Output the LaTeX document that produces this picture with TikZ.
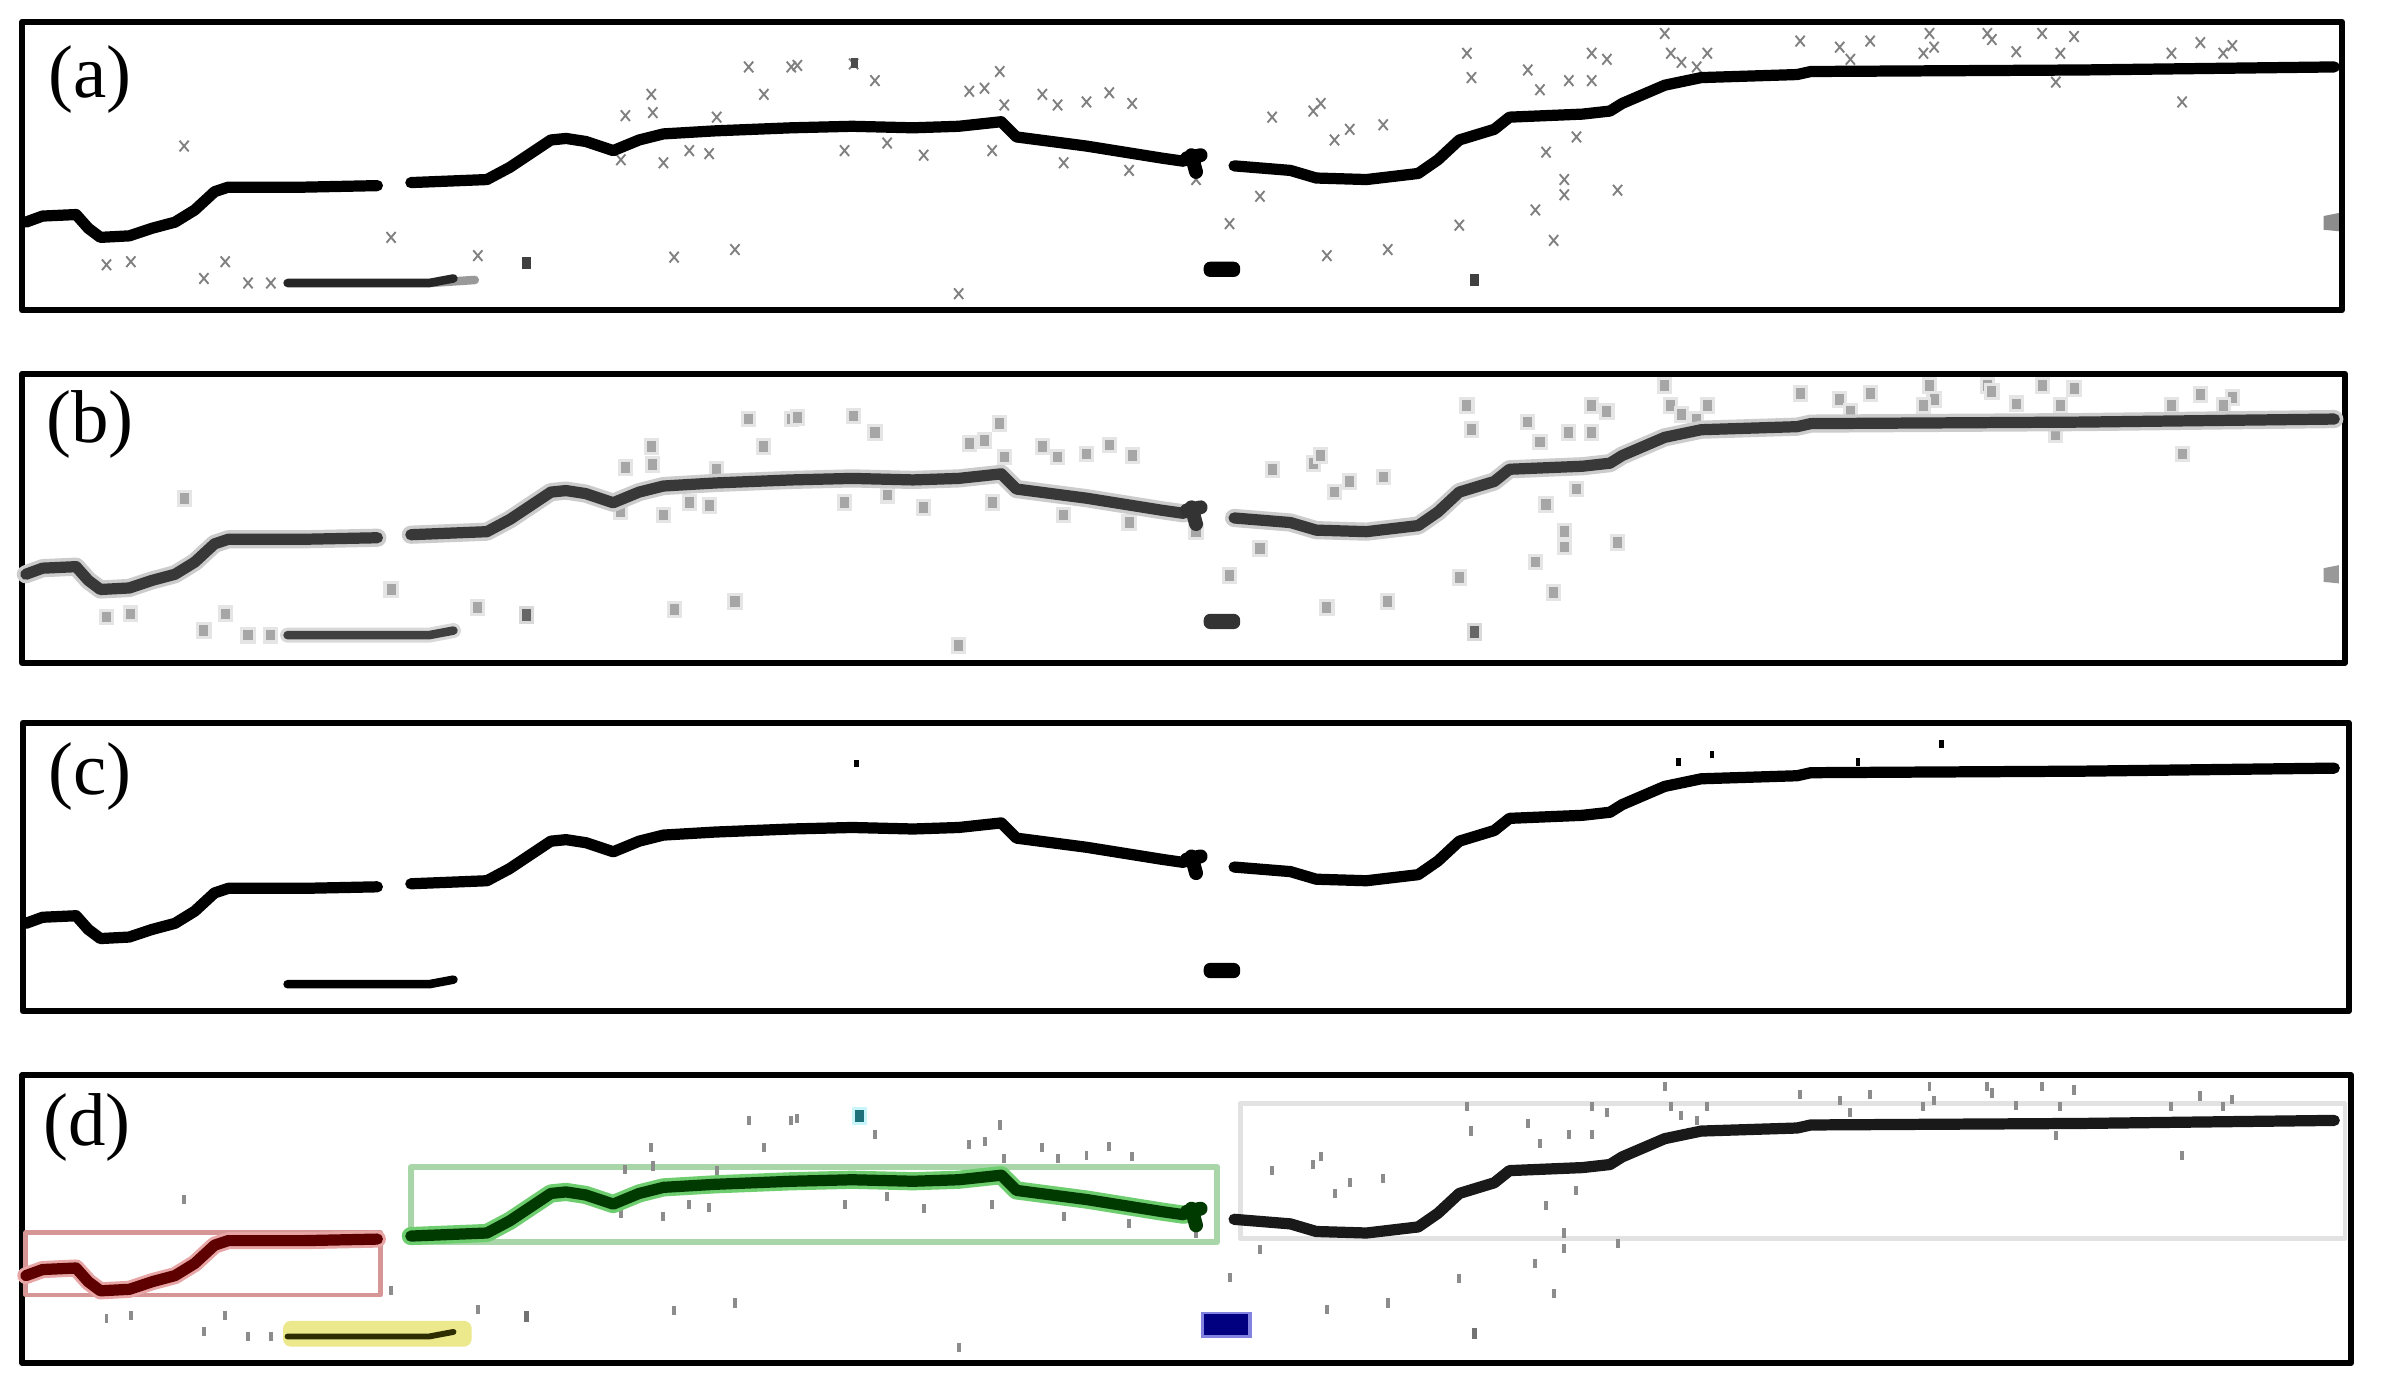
\documentclass[tikz,border=0pt]{standalone}
\usepackage{fontspec}
\setmainfont{Liberation Serif}
\definecolor{redbox}{RGB}{214,150,150}
\definecolor{redcurve}{RGB}{95,0,0}
\definecolor{redglow}{RGB}{232,165,165}
\definecolor{greenbox}{RGB}{168,214,168}
\definecolor{greencurve}{RGB}{0,58,0}
\definecolor{greenglow}{RGB}{110,205,110}
\definecolor{yellowbar}{RGB}{236,232,140}
\definecolor{olivecurve}{RGB}{45,45,0}
\definecolor{navyblob}{RGB}{0,0,128}
\definecolor{navyedge}{RGB}{130,130,225}
\definecolor{graybox}{RGB}{226,226,226}
\definecolor{tealdot}{RGB}{30,112,122}
\definecolor{cyanhalo}{RGB}{200,245,250}

\newcommand\curvesegA[1]{\draw[#1] (17,146) -- (28,142) -- (50,141) -- (58,150) -- (66,156) -- (85,155) -- (100,150) -- (115,146) -- (128,138) -- (141,126) -- (150,123) -- (200,123) -- (248,122);}
\newcommand\curvesegB[1]{\draw[#1] (270,120) -- (320,118) -- (335,110) -- (350,100) -- (362,92) -- (372,91) -- (385,93) -- (403,99) -- (420,92) -- (436,88) -- (470,86) -- (520,84) -- (560,83) -- (600,84) -- (630,83) -- (658,80) -- (668,90) -- (714,96) -- (764,104) -- (778,106);}
\newcommand\curvesegC[1]{\draw[#1] (811,109) -- (848,112) -- (865,117) -- (898,118) -- (932,114) -- (945,105) -- (959,92) -- (982,85) -- (992,77) -- (1040,75) -- (1058,73) -- (1066,68) -- (1094,56) -- (1118,51) -- (1181,49) -- (1190,47) -- (1368,46) -- (1534,44);}
\newcommand\midblob[1]{\draw[#1, line width=2.6pt] (783,102) -- (786,113) (780,104) -- (789,102);}
\newcommand\lowbar[1]{\draw[#1] (189,186) -- (282,186) -- (298,183);}
\newcommand\lowblob[1]{\fill[#1, rounded corners=1.2pt] (791,172) rectangle (815,182);}

\def\scatterlist{121/96, 70/174, 86/172, 148/172, 134/183, 163/186, 178/186, 257/156, 314/168, 443/169, 483/164, 630/193,
492/44, 520/44, 524/43, 502/62, 428/62, 429/74, 411/76, 471/77, 408/105, 436/107, 453/99, 466/101,
561/42, 575/53, 657/47, 647/58, 637/60, 660/69, 685/62, 695/69, 714/67, 729/61, 744/68,
555/99, 583/94, 607/102, 652/99, 699/107, 742/112, 786/118, 828/129, 808/147,
836/77, 863/73, 887/85, 877/92, 909/82, 868/68, 872/168, 912/164, 959/148,
964/35, 967/51, 1004/46, 1012/59, 1031/53, 1016/100, 1028/118, 1028/128, 1009/138, 1021/158,
1046/53, 1056/39, 1046/35, 1036/90, 1063/125,
1094/22, 1098/35, 1105/41, 1122/35, 1115/44, 1183/27, 1209/31, 1229/27, 1216/39,
1268/22, 1271/31, 1264/35, 1306/22, 1309/26, 1325/34, 1342/22, 1363/24, 1354/35, 1351/54,
1446/28, 1467/30, 1427/35, 1461/35, 1434/67}
\def\darklist{346/173, 969/184}

\begin{document}
\begin{tikzpicture}[x=0.1mm, y=-0.1mm, line join=round, line cap=round,
  frame/.style={draw=black, line width=1.15pt},
  lbl/.style={font=\fontsize{14}{16}\selectfont, inner sep=0pt},
  curve/.style={line width=2.1pt},
  lowline/.style={line width=1.6pt},
  xmark/.style={draw=black!50, line width=0.35pt, line cap=butt},
]
\useasboundingbox (0,0) rectangle (1568,915);
\fill[white] (0,0) rectangle (1568,915);

% ---------------- panel (a)
\draw[frame] (14.7,14.2) rectangle (1539,204);
\node[lbl] (la) at (59,52) {(a)};
\foreach \px/\py in \scatterlist {
  \draw[xmark] (\px-3,\py-3.5) -- (\px+3,\py+3.5) (\px-3,\py+3.5) -- (\px+3,\py-3.5);
}
\foreach \px/\py in \darklist { \fill[black!75] (\px-3,\py-4) rectangle (\px+3,\py+4); }
\fill[black!70] (559,38) rectangle (564,45);
\fill[black!45] (1527,142) -- (1537,140) -- (1537,152) -- (1527,151) -- cycle;
\curvesegA{curve}
\curvesegB{curve}
\curvesegC{curve}
\midblob{black}
\draw[black!40, line width=1.6pt] (282,186) -- (312,184);
\lowbar{lowline, black!85}
\lowblob{black}

% ---------------- panel (b)
\draw[frame] (14.7,245.6) rectangle (1541,435.5);
\node[lbl] (lb) at (59,279) {(b)};
\begin{scope}[shift={(0,231.4)}]
  \foreach \px/\py in \scatterlist {
    \fill[black!10] (\px-5,\py-5.5) rectangle (\px+5,\py+5.5);
    \fill[black!35] (\px-3,\py-3.5) rectangle (\px+3,\py+3.5);
  }
  \foreach \px/\py in \darklist { \fill[black!15] (\px-5,\py-6) rectangle (\px+5,\py+6); \fill[black!60] (\px-3,\py-4) rectangle (\px+3,\py+4); }
  \fill[black!40] (1527,142) -- (1537,140) -- (1537,152) -- (1527,151) -- cycle;
  \curvesegA{line width=3.4pt, black!20}
  \curvesegB{line width=3.4pt, black!20}
  \curvesegC{line width=3.4pt, black!20}
  \curvesegA{curve, black!78}
  \curvesegB{curve, black!78}
  \curvesegC{curve, black!78}
  \midblob{black!80}
  \lowbar{line width=2.8pt, black!15}
  \lowbar{lowline, black!75}
  \lowblob{black!80}
\end{scope}

% ---------------- panel (c)
\draw[frame] (15,475) rectangle (1543.5,664.5);
\node[lbl] (lc) at (59,510) {(c)};
\begin{scope}[shift={(0,460.8)}]
  \curvesegA{curve}
  \curvesegB{curve}
  \curvesegC{curve}
  \midblob{black}
  \lowbar{lowline}
  \lowblob{black}
  \foreach \px/\py in {563/41, 1103/40, 1125/35, 1221/40, 1276/28} {
    \fill[black] (\px-1.5,\py-2.5) rectangle (\px+1.5,\py+2.5);
  }
\end{scope}

% ---------------- panel (d)
\draw[frame] (14.7,706.5) rectangle (1545,895.7);
\node[lbl] (ld) at (57,741) {(d)};
% boxes
\draw[draw=graybox, line width=0.9pt] (815,725) rectangle (1541,814);
\draw[draw=redbox, line width=0.9pt] (17,810) rectangle (250,851);
\draw[draw=greenbox, line width=1.1pt] (270,767) rectangle (800,816);
\fill[yellowbar, rounded corners=1.5pt] (186,868) rectangle (310,885);
\begin{scope}[shift={(0,692.3)}]
  \foreach \px/\py in \scatterlist {
    \fill[black!45] (\px-1.3,\py-3) rectangle (\px+1.3,\py+3);
  }
  \foreach \px/\py in \darklist { \fill[black!55] (\px-1.5,\py-3.5) rectangle (\px+1.5,\py+3.5); }
  \fill[cyanhalo] (560,35) rectangle (570,47);
  \fill[tealdot] (562,37) rectangle (568,45);
  \curvesegA{line width=3.2pt, redglow}
  \curvesegA{curve, redcurve}
  \curvesegB{line width=3.4pt, greenglow}
  \curvesegB{curve, greencurve}
  \midblob{greencurve}
  \curvesegC{curve, black!90}
  \lowbar{line width=1.1pt, olivecurve}
  \fill[navyedge] (789,170) rectangle (823,187);
  \fill[navyblob] (791,171) rectangle (820,185);
\end{scope}
\end{tikzpicture}
\end{document}
